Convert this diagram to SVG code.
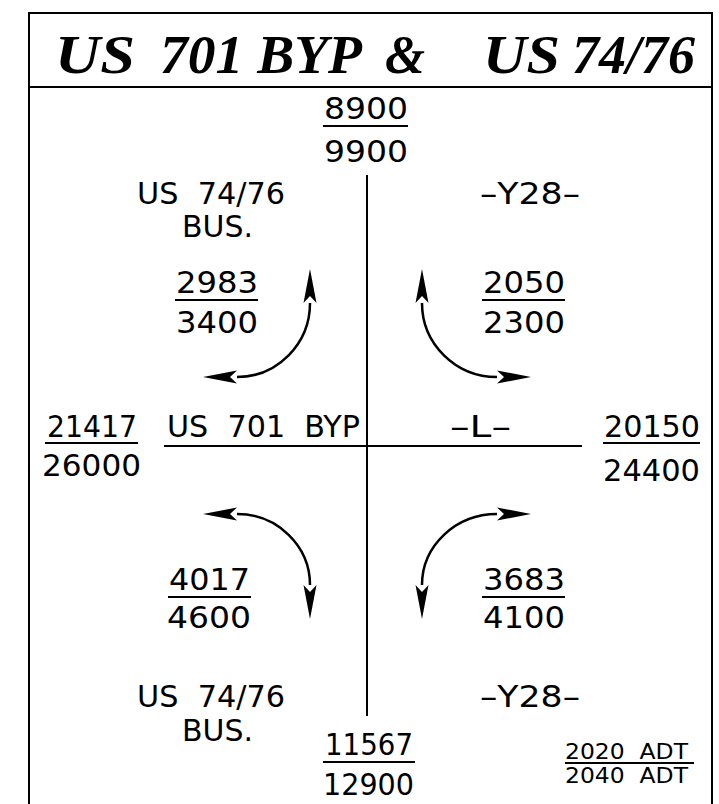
<svg xmlns="http://www.w3.org/2000/svg" width="719" height="804" viewBox="0 0 719 804">
<style>
.t{font-family:"DejaVu Sans","Liberation Sans",sans-serif;font-size:31px;fill:#000}
.s{font-family:"DejaVu Sans","Liberation Sans",sans-serif;font-size:22px;fill:#000}
.ti{font-family:"Liberation Serif",serif;font-size:55px;font-weight:bold;font-style:italic;fill:#000}
.ln{stroke:#000;stroke-width:2;fill:none}
.ul{stroke:#000;stroke-width:2}
.arc{stroke:#000;stroke-width:2.5;fill:none;marker-start:url(#ah);marker-end:url(#ah)}
</style>
<defs>
<marker id="ah" markerUnits="userSpaceOnUse" markerWidth="40" markerHeight="16" refX="0" refY="8" orient="auto-start-reverse" viewBox="0 0 40 16">
<path d="M34,8 L0,1.5 L7,8 L0,14.5 Z" fill="#000"/>
</marker>
</defs>
<rect x="0" y="0" width="719" height="804" fill="#fff"/>
<g id="frame">
<path class="ln" d="M29,806 V13 H712 V806"/>
<line class="ln" x1="29" y1="87" x2="712" y2="87"/>
</g>
<g id="title">
<text class="ti" x="55" y="73" textLength="80" lengthAdjust="spacingAndGlyphs">US</text>
<text class="ti" x="160" y="73" textLength="202" lengthAdjust="spacingAndGlyphs">701 BYP</text>
<text class="ti" x="385" y="73" textLength="40" lengthAdjust="spacingAndGlyphs">&amp;</text>
<text class="ti" x="483" y="73" textLength="77" lengthAdjust="spacingAndGlyphs">US</text>
<text class="ti" x="572" y="73" textLength="123" lengthAdjust="spacingAndGlyphs">74/76</text>
</g>
<g id="connectors">
<line class="ln" x1="367" y1="175" x2="367" y2="716"/>
<line class="ln" x1="164" y1="446" x2="582" y2="446"/>
<path class="arc" d="M237,377 A73,74 0 0 0 310,303"/>
<path class="arc" d="M422,303 A75,74 0 0 0 497,377"/>
<path class="arc" d="M237,514 A73,71 0 0 1 310,585"/>
<path class="arc" d="M497,514 A75,71 0 0 0 422,585"/>
</g>
<g id="n-north">
<text class="t" x="324" y="119" textLength="84" lengthAdjust="spacingAndGlyphs">8900</text>
<line class="ul" x1="323" y1="126" x2="408" y2="126"/>
<text class="t" x="324" y="162" textLength="84" lengthAdjust="spacingAndGlyphs">9900</text>
</g>
<g id="n-south">
<text class="t" x="325" y="755" textLength="88" lengthAdjust="spacingAndGlyphs">11567</text>
<line class="ul" x1="323" y1="762" x2="415" y2="762"/>
<text class="t" x="323" y="795" textLength="91" lengthAdjust="spacingAndGlyphs">12900</text>
</g>
<g id="n-west">
<text class="t" x="47" y="437" textLength="90" lengthAdjust="spacingAndGlyphs">21417</text>
<line class="ul" x1="45" y1="443" x2="138" y2="443"/>
<text class="t" x="42" y="476" textLength="99" lengthAdjust="spacingAndGlyphs">26000</text>
</g>
<g id="n-east">
<text class="t" x="604" y="437" textLength="96" lengthAdjust="spacingAndGlyphs">20150</text>
<line class="ul" x1="603" y1="443" x2="700" y2="443"/>
<text class="t" x="603" y="481" textLength="97" lengthAdjust="spacingAndGlyphs">24400</text>
</g>
<g id="lbl-road">
<text class="t" x="167" y="437" textLength="193" lengthAdjust="spacingAndGlyphs" xml:space="preserve">US  701  BYP</text>
<text class="t" x="450" y="437" textLength="61" lengthAdjust="spacingAndGlyphs">–L–</text>
</g>
<g id="lbl-nw">
<text class="t" x="137" y="204" textLength="148" lengthAdjust="spacingAndGlyphs" xml:space="preserve">US  74/76</text>
<text class="t" x="182" y="237" textLength="71" lengthAdjust="spacingAndGlyphs">BUS.</text>
</g>
<g id="lbl-ne">
<text class="t" x="480" y="204" textLength="100" lengthAdjust="spacingAndGlyphs">–Y28–</text>
</g>
<g id="lbl-sw">
<text class="t" x="137" y="707" textLength="148" lengthAdjust="spacingAndGlyphs" xml:space="preserve">US  74/76</text>
<text class="t" x="182" y="741" textLength="71" lengthAdjust="spacingAndGlyphs">BUS.</text>
</g>
<g id="lbl-se">
<text class="t" x="480" y="707" textLength="100" lengthAdjust="spacingAndGlyphs">–Y28–</text>
</g>
<g id="v-nw">
<text class="t" x="176" y="293" textLength="82" lengthAdjust="spacingAndGlyphs">2983</text>
<line class="ul" x1="175" y1="300" x2="258" y2="300"/>
<text class="t" x="176" y="333" textLength="82" lengthAdjust="spacingAndGlyphs">3400</text>
</g>
<g id="v-ne">
<text class="t" x="483" y="293" textLength="82" lengthAdjust="spacingAndGlyphs">2050</text>
<line class="ul" x1="482" y1="300" x2="565" y2="300"/>
<text class="t" x="483" y="333" textLength="82" lengthAdjust="spacingAndGlyphs">2300</text>
</g>
<g id="v-sw">
<text class="t" x="169" y="590" textLength="81" lengthAdjust="spacingAndGlyphs">4017</text>
<line class="ul" x1="168" y1="597" x2="251" y2="597"/>
<text class="t" x="167" y="628" textLength="84" lengthAdjust="spacingAndGlyphs">4600</text>
</g>
<g id="v-se">
<text class="t" x="483" y="590" textLength="82" lengthAdjust="spacingAndGlyphs">3683</text>
<line class="ul" x1="482" y1="597" x2="565" y2="597"/>
<text class="t" x="483" y="628" textLength="82" lengthAdjust="spacingAndGlyphs">4100</text>
</g>
<g id="legend">
<text class="s" x="565" y="759" textLength="123" lengthAdjust="spacingAndGlyphs" xml:space="preserve">2020  ADT</text>
<line class="ul" x1="565" y1="763" x2="694" y2="763"/>
<text class="s" x="565" y="783" textLength="123" lengthAdjust="spacingAndGlyphs" xml:space="preserve">2040  ADT</text>
</g>
</svg>
